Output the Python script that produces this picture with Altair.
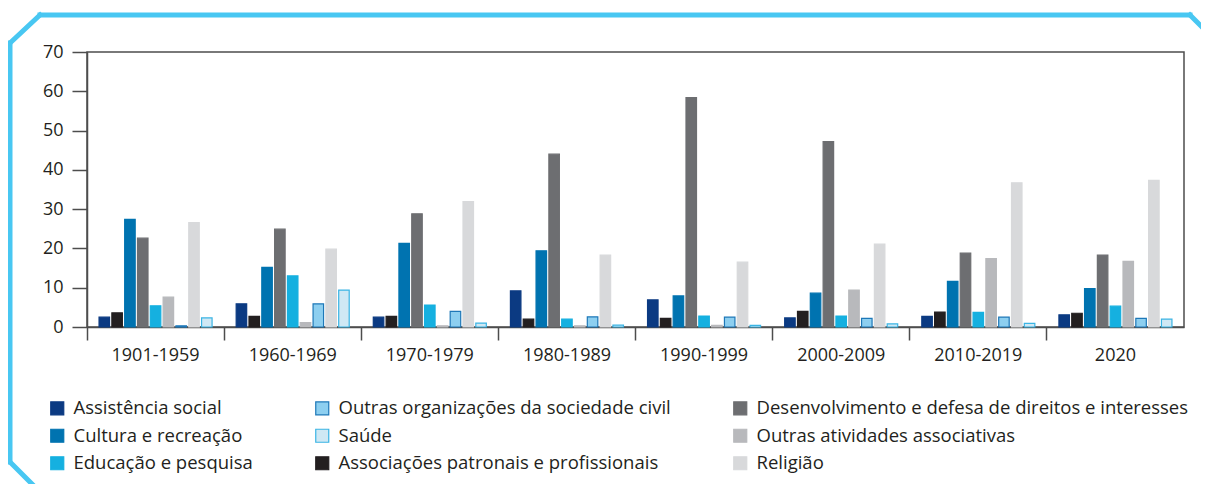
import altair as alt
import pandas as pd

periods = ["1901-1959", "1960-1969", "1970-1979", "1980-1989",
           "1990-1999", "2000-2009", "2010-2019", "2020"]

series_bar_order = [
    "Assistência social",
    "Associações patronais e profissionais",
    "Cultura e recreação",
    "Desenvolvimento e defesa de direitos e interesses",
    "Educação e pesquisa",
    "Outras atividades associativas",
    "Outras organizações da sociedade civil",
    "Religião",
    "Saúde",
]

assistencia = [2.5, 5.9, 2.5, 9.2, 6.9, 2.3, 2.7, 3.1]
associacoes = [3.6, 2.7, 2.7, 2.0, 2.2, 4.0, 3.8, 3.5]
cultura = [27.4, 15.2, 21.3, 19.4, 7.9, 8.6, 11.6, 9.8]
desenvolvimento = [22.6, 24.9, 28.8, 44.0, 58.4, 47.2, 18.8, 18.3]
educacao = [5.4, 13.0, 5.6, 2.0, 2.8, 2.8, 3.7, 5.3]
outras_ativ = [7.6, 1.1, 0.3, 0.3, 0.4, 9.4, 17.4, 16.7]
outras_org = [0.3, 5.9, 4.0, 2.6, 2.5, 2.2, 2.5, 2.2]
religiao = [26.6, 19.8, 31.9, 18.3, 16.5, 21.1, 36.7, 37.3]
saude = [2.3, 9.4, 1.0, 0.5, 0.4, 0.8, 0.9, 2.0]

values_by_series = [assistencia, associacoes, cultura, desenvolvimento,
                    educacao, outras_ativ, outras_org, religiao, saude]

legend_order = [
    "Assistência social",
    "Cultura e recreação",
    "Educação e pesquisa",
    "Outras organizações da sociedade civil",
    "Saúde",
    "Associações patronais e profissionais",
    "Desenvolvimento e defesa de direitos e interesses",
    "Outras atividades associativas",
    "Religião",
]
fill_colors = {
    "Assistência social": "#0b3a82",
    "Associações patronais e profissionais": "#231f20",
    "Cultura e recreação": "#0073b0",
    "Desenvolvimento e defesa de direitos e interesses": "#6d6e71",
    "Educação e pesquisa": "#15b0e0",
    "Outras atividades associativas": "#b8b9bc",
    "Outras organizações da sociedade civil": "#8dcff0",
    "Religião": "#d8d9db",
    "Saúde": "#cfe8f4",
}
stroke_colors = dict(fill_colors)
stroke_colors["Outras organizações da sociedade civil"] = "#1e78b8"
stroke_colors["Saúde"] = "#3ab4e4"

rows = []
for s, vals in zip(series_bar_order, values_by_series):
    for p, v in zip(periods, vals):
        rows.append({"periodo": p, "serie": s, "valor": v})
df = pd.DataFrame(rows)

FONT = "Open Sans"
TXT = "#231f20"
AX = "#4d4d4d"
FS = 18

bars = alt.Chart(df).mark_bar(strokeWidth=1.2).encode(
    x=alt.X("periodo:N", sort=periods, title=None,
            scale=alt.Scale(paddingInner=0, paddingOuter=0),
            axis=alt.Axis(labelAngle=0, bandPosition=0, tickSize=13,
                          labelPadding=6, domainColor=AX, tickColor=AX,
                          labelFontSize=FS, labelFont=FONT, labelColor=TXT,
                          domainWidth=1.5, tickWidth=1.5)),
    xOffset=alt.XOffset("serie:N", sort=series_bar_order,
                        scale=alt.Scale(paddingInner=0.18, paddingOuter=0.94)),
    y=alt.Y("valor:Q", title=None, scale=alt.Scale(domain=[0, 70]),
            axis=alt.Axis(values=list(range(0, 71, 10)), grid=False,
                          tickSize=15, labelPadding=9, domainColor=AX,
                          tickColor=AX, labelFontSize=FS, labelFont=FONT,
                          labelColor=TXT, domainWidth=1.5, tickWidth=1.5)),
    color=alt.Color("serie:N", title=None,
                    scale=alt.Scale(domain=legend_order,
                                    range=[fill_colors[s] for s in legend_order]),
                    legend=alt.Legend(orient="none", legendX=-39, legendY=347,
                                      columns=3, columnPadding=60, rowPadding=8.5,
                                      symbolSize=169, symbolType="square",
                                      symbolStrokeWidth=1.2,
                                      labelFontSize=18.5, labelFont=FONT,
                                      labelColor=TXT, labelOffset=7,
                                      labelLimit=600)),
    stroke=alt.Stroke("serie:N", title=None,
                      scale=alt.Scale(domain=legend_order,
                                      range=[stroke_colors[s] for s in legend_order])),
)

frame_color = "#48c7f2"
one = pd.DataFrame({"k": [0]})


def seg(x1, y1, x2, y2):
    return alt.Chart(one).mark_rule(color=frame_color, strokeWidth=5,
                                    strokeCap="square").encode(
        x=alt.value(x1), y=alt.value(y1), x2=alt.value(x2), y2=alt.value(y2))


frame = [
    seg(-77, -9, -77, 410),
    seg(-77, -9, -47, -37),
    seg(-47, -37, 1103, -37),
    seg(1103, -37, 1130, -10),
    seg(-77, 410, -45, 442),
]

chart = alt.layer(bars, *frame).properties(
    width=1097, height=275,
    autosize=alt.AutoSizeParams(type="none"),
    padding={"left": 79, "top": 44, "right": 17, "bottom": 157},
).configure_view(stroke=AX, strokeWidth=1.5)

chart.save("out.html", embed_options={"renderer": "svg", "actions": False})
